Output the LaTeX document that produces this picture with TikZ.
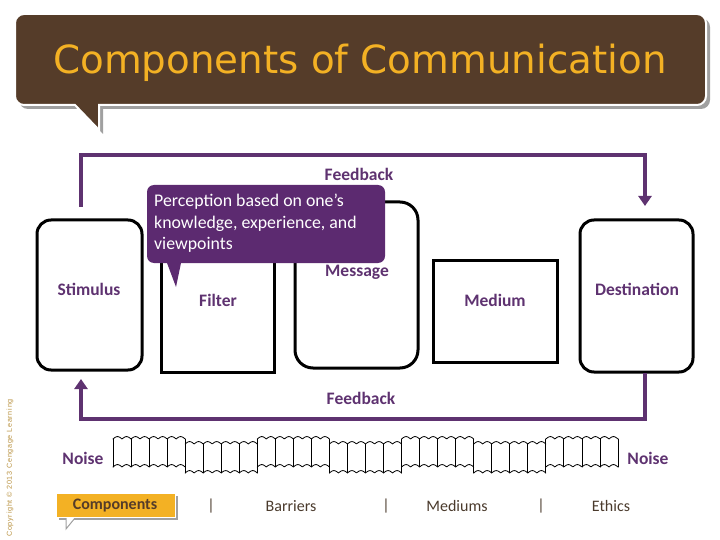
\documentclass[tikz,border=0pt]{standalone}
\usepackage{fontspec}
\setmainfont{Carlito}
\newfontfamily\titlefont{DejaVu Sans}
\newfontfamily\tinyfont[LetterSpace=10]{Liberation Sans}
\usetikzlibrary{arrows.meta,positioning,calc}
\definecolor{cafe}{HTML}{553C29}
\definecolor{oro}{HTML}{F3B124}
\definecolor{morado}{HTML}{5E3270}
\definecolor{lila}{HTML}{5C2A70}
\definecolor{sombra}{HTML}{A0A0A0}
\definecolor{tinta}{HTML}{4A3A2C}
\definecolor{marca}{HTML}{B8913F}

\begin{document}
\begin{tikzpicture}[x=1pt,y=-1pt,>=Latex,line cap=round,
    caja/.style={draw=black,line width=3pt,inner sep=0pt},
    curva/.style={caja,rounded corners=14pt},
    etiqueta/.style={text=morado,font=\bfseries\fontsize{17.5}{20}\selectfont},
    lazo/.style={draw=morado,line width=4pt,line cap=butt,
                 -{Triangle[width=13pt,length=10pt]}},
    ruido/.style={draw=black,line width=0.8pt},
    menu/.style={text=tinta,font=\fontsize{16}{18}\selectfont}]
  \useasboundingbox (0,0) rectangle (720,540);

  % title bubble
  \fill[sombra] (19,18) [rounded corners=9pt] -- (710,18) -- (710,109)
     [sharp corners] -- (103,109) -- (103,134) -- (79,109) [rounded corners=9pt] -- (19,109) -- cycle;
  \draw[white,line width=2pt,fill=cafe] (15,14) [rounded corners=9pt] -- (706,14) -- (706,105)
     [sharp corners] -- (99,105) -- (99,130) -- (75,105) [rounded corners=9pt] -- (15,105) -- cycle;
  \node[text=oro,font=\titlefont\fontsize{38.8}{42}\selectfont] (titulo) at (360,63)
     {Components of Communication};

  % boxes
  \node[curva,minimum width=105pt,minimum height=150pt] (stim) at (89.5,295) {};
  \node[caja,minimum width=113pt,minimum height=112pt] (filt) at (217.5,316) {};
  \node[caja,rounded corners=18pt,minimum width=123pt,minimum height=166pt] (mens) at (356.5,285) {};
  \node[caja,minimum width=124pt,minimum height=102pt] (medio) at (495,311) {};
  \node[curva,minimum width=113pt,minimum height=152pt] (dest) at (636.5,296) {};

  \node[etiqueta] (stimL) at (89,289) {Stimulus};
  \node[etiqueta] (filtL) at (218,300) {Filter};
  \node[etiqueta] (mensL) at (357,272) {Message};
  \node[etiqueta] (medioL) at (495,300) {Medium};
  \node[etiqueta] (destL) at (637,289) {Destination};

  % feedback loops
  \coordinate (fbA) at (81,207);
  \coordinate (fbB) at (360,155);
  \coordinate (fbC) at (645,206);
  \draw[lazo] (fbA) |- (fbB) -| (fbC);
  \node[etiqueta] (fbTop) at (359,174) {Feedback};

  \coordinate (fbD) at (645,373);
  \coordinate (fbE) at (360,419);
  \coordinate (fbF) at (81,379);
  \draw[lazo] (fbD) |- (fbE) -| (fbF);
  \node[etiqueta] (fbBot) at (361,398) {Feedback};

  % perception callout
  \fill[lila] (147,185) [rounded corners=7pt] -- (385,185) -- (385,263)
     [sharp corners] -- (181,263) -- (176,287) -- (167,263) [rounded corners=7pt] -- (147,263) -- cycle;
  \node[anchor=north west,align=left,text=white,inner sep=0pt,
        font=\fontsize{17.8}{21.5}\selectfont] (perc) at (154,194)
     {Perception based on one’s\\knowledge, experience, and\\viewpoints};

  % noise band
  \foreach \g in {0,...,6} {
    \pgfmathsetmacro\xa{113+72.14*\g}
    \pgfmathsetmacro\xb{\xa+72.14}
    \pgfmathsetmacro\ya{mod(\g,2)==0 ? 439 : 444}
    \pgfmathsetmacro\yb{mod(\g,2)==0 ? 467 : 473}
    \draw[ruido] plot[domain=\xa:\xb,samples=90] (\x,{\ya-2.4*abs(sin((\x-\xa)*19.96))});
    \draw[ruido] plot[domain=\xa:\xb,samples=90] (\x,{\yb-2.4*abs(sin((\x-\xa)*19.96))});
    \foreach \c in {0,...,4}
      \draw[ruido] ({\xa+18.035*\c},\ya) -- ({\xa+18.035*\c},\yb);
  }
  \node[etiqueta] (ruidoI) at (83,458) {Noise};
  \node[etiqueta] (ruidoD) at (648,458) {Noise};

  % bottom menu
  \fill[sombra] (59,496) rectangle (178,520);
  \draw[sombra,line width=1pt,fill=white] (66,518) -- (66,529) -- (75,518);
  \draw[white,line width=1pt,fill=oro] (56,493) rectangle (175,517);
  \node[menu,text=cafe,font=\bfseries\fontsize{16}{18}\selectfont] (comp) at (115,506) {Components};
  \node[menu] (sep1) at (211,506) {|};
  \node[menu] (barr) at (291,506) {Barriers};
  \node[menu] (sep2) at (386,506) {|};
  \node[menu] (medios) at (457,506) {Mediums};
  \node[menu] (sep3) at (541,506) {|};
  \node[menu] (etica) at (611,506) {Ethics};

  \node[rotate=90,text=marca,font=\tinyfont\fontsize{7.2}{8}\selectfont] (copy) at (10,468)
     {Copyright © 2013 Cengage Learning};
\end{tikzpicture}
\end{document}
